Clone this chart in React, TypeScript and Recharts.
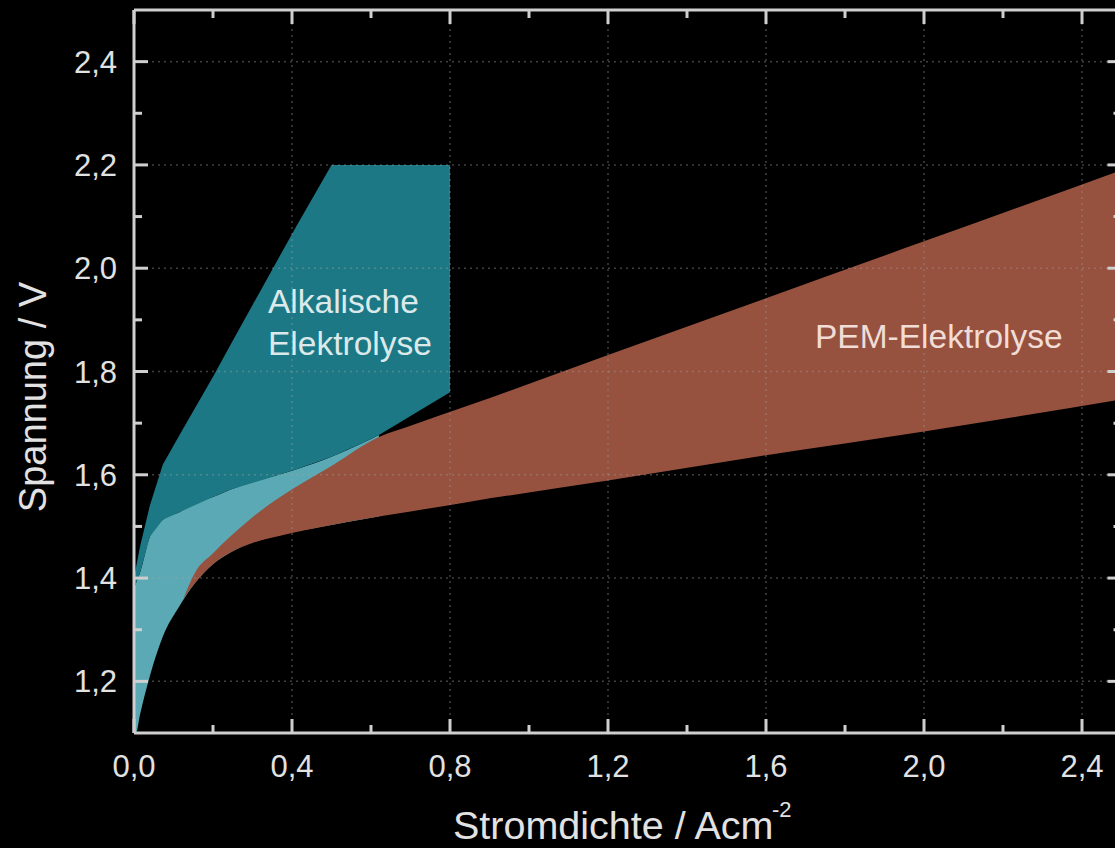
import React from 'react';
import { ComposedChart, Area, XAxis, YAxis, ReferenceLine } from 'recharts';

// Stromdichte (A/cm²) tick values and Spannung (V) tick values
const xTicks = [0, 0.2, 0.4, 0.6, 0.8, 1.0, 1.2, 1.4, 1.6, 1.8, 2.0, 2.2, 2.4];
const yTicks = [1.2, 1.3, 1.4, 1.5, 1.6, 1.7, 1.8, 1.9, 2.0, 2.1, 2.2, 2.3, 2.4];

// Alkalische Elektrolyse (dunkles Petrol)
const alkX = [0, 0.005, 0.015, 0.04, 0.073, 0.116, 0.2, 0.243, 0.41, 0.5, 0.58, 0.62, 0.8];
const alkHigh = [1.4, 1.42, 1.46, 1.54, 1.62, 1.678, 1.79, 1.85, 2.08, 2.2, 2.2, 2.2, 2.2];
const alkLow = [1.38, 1.39, 1.41, 1.48, 1.513, 1.528, 1.557, 1.571, 1.61, 1.635, 1.662, 1.677, 1.76];

// heller Bereich unterhalb
const cyanX = [0, 0.005, 0.015, 0.04, 0.073, 0.116, 0.154, 0.2, 0.243, 0.41, 0.5, 0.58, 0.62];
const cyanHigh = [1.38, 1.39, 1.41, 1.48, 1.513, 1.528, 1.545, 1.557, 1.571, 1.61, 1.635, 1.662, 1.677];
const cyanLow = [1.1, 1.1, 1.135, 1.21, 1.287, 1.347, 1.39, 1.427, 1.449, 1.49, 1.503, 1.514, 1.519];

// PEM-Elektrolyse
const pemX = [0.125, 0.154, 0.2, 0.243, 0.3, 0.37, 0.5, 0.62, 0.7, 0.85, 1.2, 1.6, 2.0, 2.5];
const pemHigh = [1.36, 1.41, 1.448, 1.48, 1.518, 1.557, 1.617, 1.673, 1.695, 1.735, 1.832, 1.942, 2.052, 2.19];
const pemLow = [1.36, 1.39, 1.427, 1.449, 1.468, 1.482, 1.503, 1.519, 1.529, 1.548, 1.589, 1.638, 1.684, 1.746];

const toRows = (xs: number[], lo: number[], hi: number[]) =>
  xs.map((x, i) => ({ x, range: [lo[i], hi[i]] }));

const alkData = toRows(alkX, alkLow, alkHigh);
const cyanData = toRows(cyanX, cyanLow, cyanHigh);
const pemData = toRows(pemX, pemLow, pemHigh);

const FRAME = '#cfcfcf';
const TEXT = '#e2e2e2';
const FONT = '"Liberation Sans", Arial, sans-serif';

const fmt = (v: number) => v.toFixed(1).replace('.', ',');
const isMajorX = (v: number) => Math.round(v * 10) % 4 === 0;
const isMajorY = (v: number) => Math.round(v * 10) % 2 === 0;

function makeTick(side: 'bottom' | 'top' | 'left' | 'right') {
  return (props: any) => {
    const { x, y, payload } = props;
    const v = payload.value as number;
    const vertical = side === 'left' || side === 'right';
    const major = vertical ? isMajorY(v) : isMajorX(v);
    const len = major ? 14 : 8;
    let x2 = x;
    let y2 = y;
    if (side === 'bottom') y2 = y - len;
    if (side === 'top') y2 = y + len;
    if (side === 'left') x2 = x + len;
    if (side === 'right') x2 = x - len;
    return (
      <g>
        <line x1={x} y1={y} x2={x2} y2={y2} stroke={FRAME} strokeWidth={3} />
        {major && side === 'bottom' && (
          <text x={x} y={y + 44} textAnchor="middle" fontSize={31} fill={TEXT} fontFamily={FONT}>
            {fmt(v)}
          </text>
        )}
        {major && side === 'left' && (
          <text x={x - 17} y={y + 11} textAnchor="end" fontSize={31} fill={TEXT} fontFamily={FONT}>
            {fmt(v)}
          </text>
        )}
      </g>
    );
  };
}

export default function App() {
  const axisLine = { stroke: FRAME, strokeWidth: 3 };
  return (
    <div
      style={{
        position: 'absolute',
        left: 0,
        top: 0,
        width: 1115,
        height: 848,
        overflow: 'hidden',
        background: '#000',
      }}
    >
      <ComposedChart width={1160} height={848} margin={{ top: 9, right: 37.5, bottom: 0, left: 0 }}>
        <XAxis
          xAxisId={0}
          type="number"
          dataKey="x"
          domain={[0, 2.5]}
          ticks={xTicks}
          interval={0}
          tickSize={0}
          tickMargin={0}
          tickLine={false}
          tick={makeTick('bottom')}
          axisLine={axisLine}
          height={115}
          allowDataOverflow
        />
        <XAxis
          xAxisId="top"
          orientation="top"
          type="number"
          dataKey="x"
          domain={[0, 2.5]}
          ticks={xTicks}
          interval={0}
          tickSize={0}
          tickMargin={0}
          tickLine={false}
          tick={makeTick('top')}
          axisLine={axisLine}
          height={1}
          allowDataOverflow
        />
        <YAxis
          yAxisId={0}
          type="number"
          domain={[1.1, 2.5]}
          ticks={yTicks}
          interval={0}
          tickSize={0}
          tickMargin={0}
          tickLine={false}
          tick={makeTick('left')}
          axisLine={axisLine}
          width={134}
          allowDataOverflow
        />
        <YAxis
          yAxisId="right"
          orientation="right"
          type="number"
          domain={[1.1, 2.5]}
          ticks={yTicks}
          interval={0}
          tickSize={0}
          tickMargin={0}
          tickLine={false}
          tick={makeTick('right')}
          axisLine={axisLine}
          width={1}
          allowDataOverflow
        />

        <Area
          data={cyanData}
          dataKey="range"
          type="monotone"
          stroke="none"
          fill="#5aa9b4"
          fillOpacity={1}
          dot={false}
          activeDot={false}
          isAnimationActive={false}
        />
        <Area
          data={pemData}
          dataKey="range"
          type="monotone"
          stroke="none"
          fill="#96513f"
          fillOpacity={1}
          dot={false}
          activeDot={false}
          isAnimationActive={false}
        />
        <Area
          data={alkData}
          dataKey="range"
          type="linear"
          stroke="none"
          fill="#1d7885"
          fillOpacity={1}
          dot={false}
          activeDot={false}
          isAnimationActive={false}
        />

        {xTicks.filter((v) => v > 0 && isMajorX(v)).map((v) => (
          <ReferenceLine key={'gx' + v} x={v} stroke="#a0a0a0" strokeOpacity={0.4} strokeDasharray="2 4" strokeWidth={1.5} />
        ))}
        {yTicks.filter((v) => isMajorY(v)).map((v) => (
          <ReferenceLine key={'gy' + v} y={v} stroke="#a0a0a0" strokeOpacity={0.4} strokeDasharray="2 4" strokeWidth={1.5} />
        ))}

        <text
          x={46}
          y={397}
          transform="rotate(-90 46 397)"
          textAnchor="middle"
          fontSize={38}
          fill={TEXT}
          fontFamily={FONT}
        >
          Spannung / V
        </text>
        <text x={453} y={839} fontSize={39.5} fill={TEXT} fontFamily={FONT}>
          Stromdichte / Acm
        </text>
        <text x={772} y={817} fontSize={22} fill={TEXT} fontFamily={FONT}>-2</text>
      </ComposedChart>

      {/* Beschriftungen der Bereiche, über den Flächen */}
      <svg
        width={1115}
        height={848}
        style={{ position: 'absolute', left: 0, top: 0, pointerEvents: 'none' }}
      >
        <text x={268} y={313} fontSize={33.5} fill="#dce9ea" fontFamily={FONT}>Alkalische</text>
        <text x={268} y={355} fontSize={33.5} fill="#dce9ea" fontFamily={FONT}>Elektrolyse</text>
        <text x={815} y={348} fontSize={33.5} fill="#f1dcd6" fontFamily={FONT}>PEM-Elektrolyse</text>
      </svg>
    </div>
  );
}
